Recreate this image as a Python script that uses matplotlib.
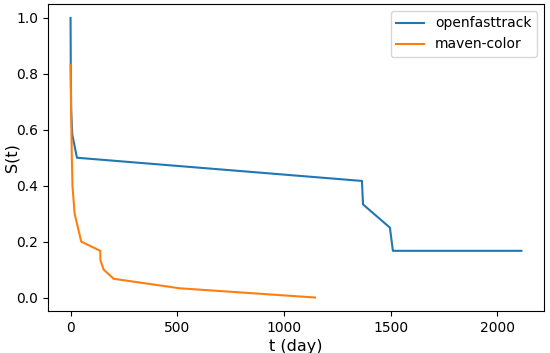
import matplotlib
matplotlib.use("Agg")
import matplotlib.pyplot as plt

# survival curves
oft_t = [0, 1, 3, 8, 30, 1365, 1370, 1496, 1510, 2112]
oft_s = [1.0, 0.833, 0.667, 0.583, 0.5, 0.417, 0.333, 0.25, 0.167, 0.167]

mc_t = [0, 2, 4, 6, 9, 19, 50, 139, 140, 155, 202, 511, 1145]
mc_s = [0.833, 0.7, 0.6, 0.5, 0.4, 0.3, 0.2, 0.167, 0.133, 0.1, 0.067, 0.033, 0.0]

fig, ax = plt.subplots(figsize=(5.5, 3.53), dpi=100)
ax.plot(oft_t, oft_s, label="openfasttrack")
ax.plot(mc_t, mc_s, label="maven-color")

ax.legend(loc="upper right")
ax.set_ylabel("S(t)", fontsize=11.5)
ax.set_xlabel("t (day)", fontsize=11.5)
fig.subplots_adjust(left=0.0873, right=0.989, top=0.9887, bottom=0.1176)
ax.yaxis.set_label_coords(-0.058, 0.5)
ax.xaxis.set_label_coords(0.5, -0.088)
fig.savefig("out.png")
